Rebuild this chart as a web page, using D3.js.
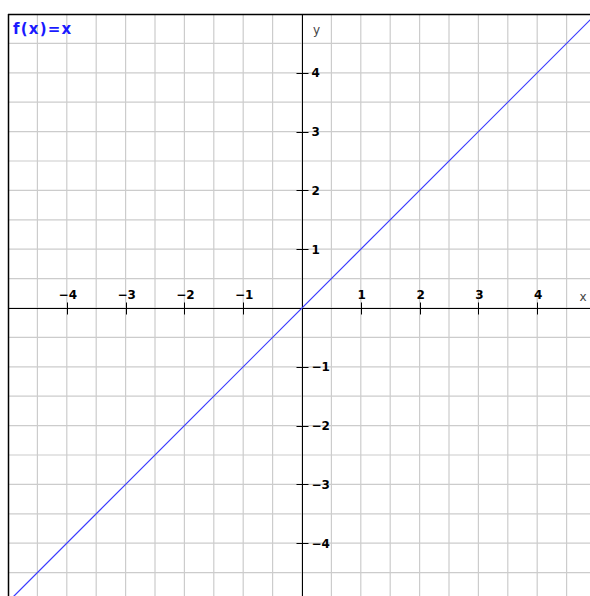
<!DOCTYPE html>
<html>
<head>
<meta charset="utf-8">
<script src="https://cdn.jsdelivr.net/npm/d3@7"></script>
<style>
  html, body { margin: 0; padding: 0; background: #fff; }
  svg { display: block; }
</style>
</head>
<body>
<svg id="plot"></svg>
<script>
// plot of f(x)=x

var width = 590;
var height = 596;

// data
var titleText = "f(x)=x";
var xTicks = [-4, -3, -2, -1, 1, 2, 3, 4];
var yTicks = [-4, -3, -2, -1, 1, 2, 3, 4];
var gridSteps = d3.range(-10, 11).map(k => k / 2);
var lineX = [-5, 5];
var lineY = [-5, 5];
var axisNames = ["x", "y"];

var padLeft = 8, padTop = 14;
var unit = 58.8;

var x = d3.scaleLinear().domain([-5, 5]).range([padLeft, padLeft + 10 * unit]);
var y = d3.scaleLinear().domain([5, -5]).range([padTop, padTop + 10 * unit]);

var svg = d3.select("#plot").attr("width", width).attr("height", height);

svg.append("clipPath").attr("id", "clip")
  .append("rect")
  .attr("x", padLeft).attr("y", padTop)
  .attr("width", width - padLeft).attr("height", height - padTop);

var g = svg.append("g").attr("clip-path", "url(#clip)");

// grid
g.selectAll(".gx").data(gridSteps).enter().append("line")
  .attr("x1", d => x(d)).attr("x2", d => x(d))
  .attr("y1", padTop).attr("y2", height)
  .style("stroke", "#cccccc").style("stroke-width", 1.2);

g.selectAll(".gy").data(gridSteps).enter().append("line")
  .attr("y1", d => y(d)).attr("y2", d => y(d))
  .attr("x1", padLeft).attr("x2", width)
  .style("stroke", "#cccccc").style("stroke-width", 1.2);

// axes
var x0 = Math.round(x(0)) + 0.5;
var y0 = Math.round(y(0)) + 0.5;

g.append("line").attr("x1", padLeft).attr("x2", width).attr("y1", y0).attr("y2", y0)
  .style("stroke", "#000").style("stroke-width", 1);
g.append("line").attr("x1", x0).attr("x2", x0).attr("y1", padTop).attr("y2", height)
  .style("stroke", "#000").style("stroke-width", 1);

// ticks
g.selectAll(".tx").data(xTicks).enter().append("line")
  .attr("x1", d => Math.round(x(d)) + 0.5).attr("x2", d => Math.round(x(d)) + 0.5)
  .attr("y1", y0 - 6).attr("y2", y0 + 6)
  .style("stroke", "#000");

g.selectAll(".ty").data(yTicks).enter().append("line")
  .attr("y1", d => Math.round(y(d)) + 0.5).attr("y2", d => Math.round(y(d)) + 0.5)
  .attr("x1", x0 - 6).attr("x2", x0 + 6)
  .style("stroke", "#000");

var fmt = d3.format("d");

g.selectAll(".lx").data(xTicks).enter().append("text")
  .attr("x", d => x(d) + 1)
  .attr("y", y0 - 10)
  .attr("text-anchor", "middle")
  .style("font-family", "DejaVu Sans")
  .style("font-weight", "bold")
  .style("font-size", "12px")
  .text(d => fmt(d));

g.selectAll(".ly").data(yTicks).enter().append("text")
  .attr("x", x0 + 9)
  .attr("y", d => y(d))
  .attr("dy", "0.36em")
  .style("font-family", "DejaVu Sans")
  .style("font-weight", "bold")
  .style("font-size", "12px")
  .text(d => fmt(d));

// axis names
g.append("text").attr("x", 583).attr("y", y0 - 8).attr("text-anchor", "middle")
  .style("font-family", "DejaVu Sans").style("font-size", "12px").style("fill", "#444")
  .text(axisNames[0]);
g.append("text").attr("x", x0 + 14).attr("y", padTop + 20).attr("text-anchor", "middle")
  .style("font-family", "DejaVu Sans").style("font-size", "12px").style("fill", "#444")
  .text(axisNames[1]);

// function line
var line = d3.line().x(d => x(d[0])).y(d => y(d[1]));
g.append("path")
  .datum(lineX.map((v, i) => [v, lineY[i]]))
  .attr("d", line)
  .attr("fill", "none")
  .attr("stroke", "#3a3aff")
  .attr("stroke-width", 1.2);

// frame
svg.append("line").attr("x1", padLeft + 0.5).attr("x2", padLeft + 0.5).attr("y1", padTop).attr("y2", height)
  .style("stroke", "#000").style("stroke-width", 1.5);
svg.append("line").attr("x1", padLeft).attr("x2", width).attr("y1", padTop + 0.5).attr("y2", padTop + 0.5)
  .style("stroke", "#000").style("stroke-width", 1.5);

// title
svg.append("text")
  .attr("x", 13).attr("y", 34)
  .style("font-family", "DejaVu Sans")
  .style("font-weight", "bold")
  .style("font-size", "15px")
  .style("letter-spacing", "1.2px")
  .style("fill", "#1a1aff")
  .text(titleText);
</script>
</body>
</html>
